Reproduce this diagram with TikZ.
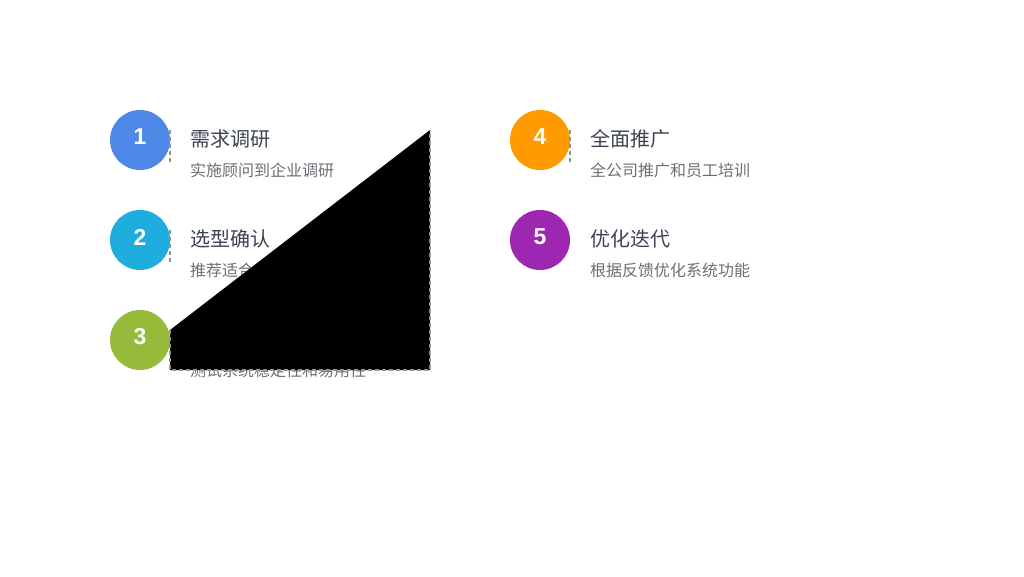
\documentclass[tikz,border=0pt]{standalone}
\usepackage{fontspec}
\setmainfont{Liberation Sans}
\newfontfamily\cjk{Noto Sans CJK SC}
\definecolor{cA}{HTML}{4F89E8}
\definecolor{cB}{HTML}{1FADDD}
\definecolor{cC}{HTML}{96BB3B}
\definecolor{cD}{HTML}{FF9A00}
\definecolor{cE}{HTML}{9E27B2}
\definecolor{ttl}{HTML}{3B4252}
\definecolor{sub}{HTML}{6B6E75}
\begin{document}
\begin{tikzpicture}[x=1pt,y=-1pt,
  numc/.style={circle,minimum size=60pt,inner sep=0pt,fill=#1},
  numt/.style={inner sep=0pt,text=white,font=\bfseries\fontsize{23}{23}\selectfont},
  ttlt/.style={anchor=west,inner sep=0pt,text=ttl,font=\cjk\fontsize{20}{20}\selectfont},
  subt/.style={anchor=west,inner sep=0pt,text=sub,font=\cjk\fontsize{16}{16}\selectfont},
  dsh/.style={draw=gray!85,dash pattern=on 4pt off 3pt,line width=1.5pt}]
\useasboundingbox (0,0) rectangle (1024,576);
\node[numc=cA] (n1) at (140,140) {};
\node[numc=cB] (n2) at (140,240) {};
\node[numc=cC] (n3) at (140,340) {};
\node[numc=cD] (n4) at (540,140) {};
\node[numc=cE] (n5) at (540,240) {};
\node[numt] (l1) at (140,137) {1};
\node[numt] (l2) at (140,237) {2};
\node[numt] (l3) at (140,337) {3};
\node[numt] (l4) at (540,137) {4};
\node[numt] (l5) at (540,237) {5};
\node[ttlt] (t1) at (190,139) {需求调研};
\node[subt] (s1) at (190,170) {实施顾问到企业调研};
\node[ttlt] (t2) at (190,239) {选型确认};
\node[subt] (s2) at (190,270) {推荐适合的系统方案};
\node[subt] (s3) at (190,370) {测试系统稳定性和易用性};
\node[ttlt] (t4) at (590,139) {全面推广};
\node[subt] (s4) at (590,170) {全公司推广和员工培训};
\node[ttlt] (t5) at (590,239) {优化迭代};
\node[subt] (s5) at (590,270) {根据反馈优化系统功能};
\draw[dsh] (170,130) -- (170,165);
\draw[dsh] (170,230) -- (170,265);
\draw[dsh] (570,130) -- (570,165);
\fill[black] (170,330) -- (430,130) -- (430,370) -- (170,370) -- cycle;
\draw[dsh] (170,330) -- (170,370) -- (430,370) -- (430,130);
\end{tikzpicture}
\end{document}
